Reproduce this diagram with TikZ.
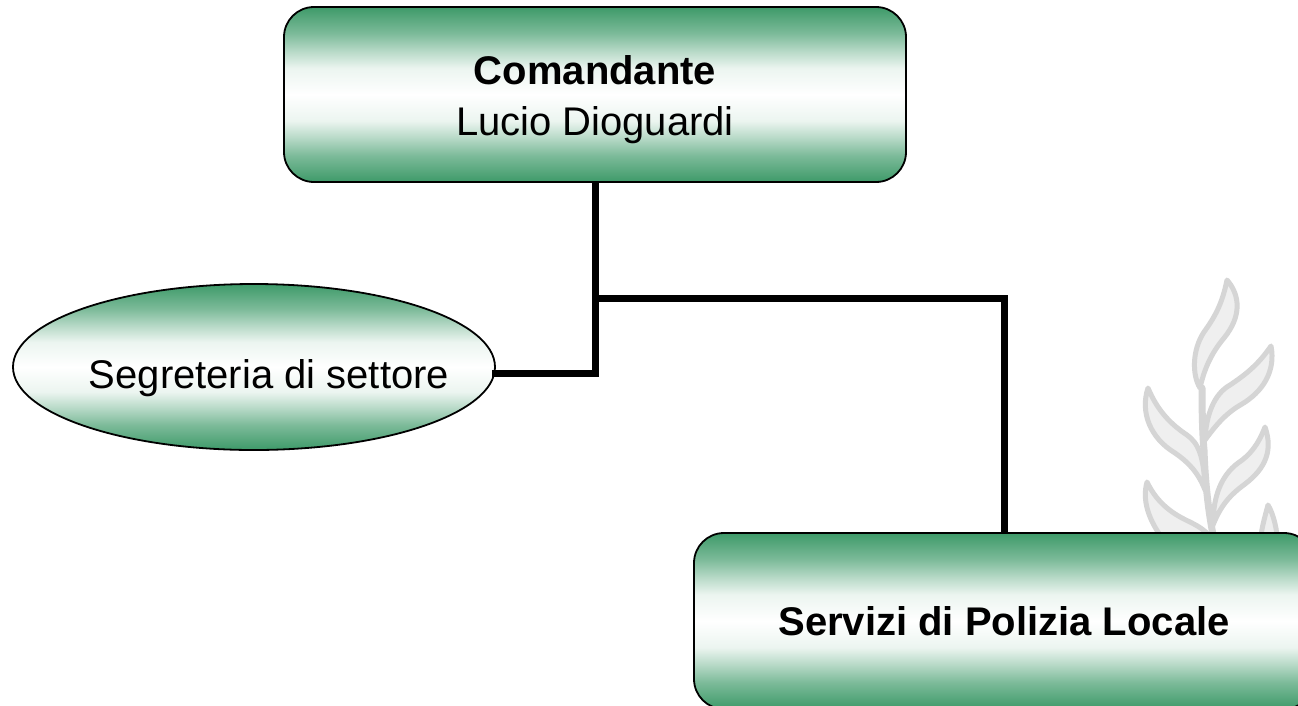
\documentclass[tikz,border=0pt]{standalone}
\usepackage{fontspec}
\setmainfont{Liberation Sans}
\usetikzlibrary{shapes.geometric}
\definecolor{gr}{HTML}{3E9A69}
\definecolor{lf}{HTML}{EFEFEF}
\definecolor{lfl}{HTML}{D5D5D5}
\pgfdeclareverticalshading{greenband}{100bp}{
  color(0bp)=(gr); color(25bp)=(gr);
  color(32.5bp)=(gr!68!white); color(37.5bp)=(gr!38!white); color(42.5bp)=(gr!10!white); color(50bp)=(white);
  color(57.5bp)=(gr!10!white); color(62.5bp)=(gr!38!white); color(67.5bp)=(gr!68!white);
  color(75bp)=(gr); color(100bp)=(gr)}
\tikzset{
  grad/.style={draw=black,line width=1.8pt,shading=greenband,align=center,font=\fontsize{40}{51}\selectfont,inner sep=0pt},
  box/.style={grad,rectangle,rounded corners=30pt},
  link/.style={line width=7pt,line cap=butt,line join=miter},
  leaf/.style={fill=lf,draw=lfl,line width=5pt,line join=round},
  stem/.style={draw=lfl,line width=7pt,line cap=round}
}
\begin{document}
\begin{tikzpicture}[x=1pt,y=-1pt]
\useasboundingbox (0,0) rectangle (1298,705);
\clip (0,0) rectangle (1298,705);
\fill[white] (0,0) rectangle (1298,705);
% plant
\draw[stem] (1202,388) .. controls (1202,420) and (1203,440) .. (1204,450) .. controls (1205,480) and (1208,510) .. (1214,540);
\draw[leaf] (1227,280) .. controls (1222,305) and (1214,318) .. (1204,332) .. controls (1192,350) and (1192,375) .. (1200,388) .. controls (1205,365) and (1214,350) .. (1224,338) .. controls (1242,316) and (1240,295) .. cycle;
\draw[leaf] (1271,346) .. controls (1258,365) and (1245,375) .. (1230,385) .. controls (1214,394) and (1206,415) .. (1205,440) .. controls (1216,425) and (1226,413) .. (1242,404) .. controls (1262,392) and (1276,372) .. cycle;
\draw[leaf] (1148,388) .. controls (1158,412) and (1172,425) .. (1187,435) .. controls (1198,443) and (1204,455) .. (1205,490) .. controls (1198,472) and (1188,462) .. (1175,453) .. controls (1150,438) and (1140,412) .. cycle;
\draw[leaf] (1265,427) .. controls (1258,445) and (1250,455) .. (1238,463) .. controls (1222,475) and (1213,495) .. (1213,525) .. controls (1221,505) and (1230,495) .. (1245,484) .. controls (1266,468) and (1273,450) .. cycle;
\draw[leaf] (1147,482) .. controls (1158,505) and (1175,515) .. (1190,522) .. controls (1200,527) and (1208,532) .. (1214,542) -- (1165,542) .. controls (1148,520) and (1142,500) .. cycle;
\draw[leaf] (1268,505) .. controls (1264,520) and (1261,530) .. (1260,545) -- (1278,545) .. controls (1277,530) and (1274,515) .. cycle;
% boxes
\node[box,minimum width=622pt,minimum height=175pt] (boss) at (595,94.5) {\rule{0pt}{39pt}\textbf{Comandante}\\Lucio Dioguardi};
\node[grad,ellipse,minimum width=482pt,minimum height=166pt] (seg) at (254,367) {};
\node[font=\fontsize{40}{46}\selectfont,inner sep=0pt] (seglabel) at (269,378) {Segreteria di settore};
\node[box,minimum width=620pt,minimum height=176pt] (serv) at (1004,621) {\textbf{Servizi di Polizia Locale}};
% connectors
\coordinate (elbow) at (595,373);
\coordinate (segend) at (492,373);
\coordinate (branch) at (595,298);
\draw[link] (boss.south) -- (elbow) -- (segend);
\draw[link] (branch) -| (serv.north);
\end{tikzpicture}
\end{document}
